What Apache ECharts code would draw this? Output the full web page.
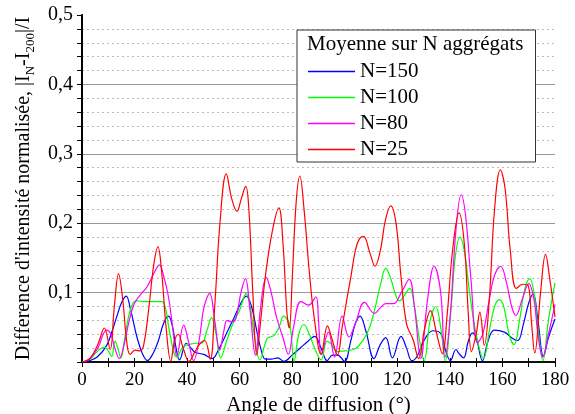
<!DOCTYPE html>
<html>
<head>
<meta charset="utf-8">
<script src="https://cdn.jsdelivr.net/npm/echarts@6/dist/echarts.min.js"></script>
<style>html,body{margin:0;padding:0;background:#fff}#c{width:575px;height:414px}</style>
</head>
<body>
<div id="c"></div>
<script>
var seriesNames = ['N=150', 'N=100', 'N=80', 'N=25'];
var legendTitle = 'Moyenne sur N aggrégats';
var xAxisName = 'Angle de diffusion (°)';

var n150 = [[0,0],[3,0.002],[6,0.008],[9.4,0.024],[11.5,0.045],[13.2,0.065],[15,0.085],[16.8,0.095],[18.5,0.075],[20.9,0.036],[23,0.012],[24.9,0.002],[27,0.012],[29,0.03],[31,0.055],[32.9,0.066],[34.5,0.05],[35.8,0.02],[37.1,0.003],[39.7,0.027],[41.5,0.02],[43.1,0.014],[46.3,0.011],[49.5,0.005],[52,0.018],[55.2,0.043],[58,0.065],[60.5,0.085],[62.5,0.095],[64.5,0.08],[66.5,0.045],[68,0.02],[69.8,0.004],[72,0.004],[74.5,0.006],[76.8,0.001],[80,0.01],[83.3,0.021],[86,0.03],[88.5,0.037],[91,0.02],[93.3,0.002],[95.3,0.01],[97.2,0.01],[99.9,0.001],[102.2,0.029],[104,0.055],[105.8,0.066],[108,0.045],[111.1,0.005],[113.5,0.025],[115.6,0.035],[118.1,0.006],[121.4,0.037],[123.5,0.02],[125.5,0.002],[127.5,0.008],[130,0.03],[133.5,0.045],[136.5,0.041],[138.5,0.015],[140.2,0.002],[142.3,0.018],[143.5,0.012],[145.2,0.006],[147,0.03],[148.6,0.042],[150,0.035],[152.4,0.002],[154.5,0.03],[156.9,0.046],[160.7,0.043],[163.9,0.034],[165.8,0.031],[168,0.055],[170,0.085],[171.7,0.098],[173.5,0.06],[175.6,0.008],[177.5,0.035],[180,0.062]];

var n100 = [[0,0],[3,0.004],[5,0.012],[7,0.019],[8.8,0.021],[10,0.016],[11.3,0.008],[12.6,0.030],[13.6,0.02],[14.8,0.006],[16.5,0.04],[18,0.07],[19.6,0.086],[21,0.088],[23.5,0.087],[26,0.087],[28.5,0.087],[30.4,0.087],[31.7,0.079],[33.5,0.04],[36.1,0.007],[38.5,0.022],[40.5,0.025],[43.5,0.027],[45.5,0.027],[47.5,0.045],[49.3,0.064],[51,0.04],[52.8,0.006],[55,0.03],[57.7,0.058],[60,0.075],[62.5,0.099],[64,0.08],[65.5,0.04],[67.7,0.003],[70.5,0.034],[73,0.038],[75,0.05],[76.7,0.066],[78.3,0.06],[79.3,0.05],[80.7,0.001],[82.5,0.04],[84.4,0.054],[86.5,0.04],[88.5,0.02],[91,0.003],[93.3,0.030],[95,0.025],[97.2,0.015],[100,0.016],[102.2,0.017],[105,0.022],[108.6,0.042],[111,0.07],[113.5,0.11],[115.6,0.135],[117.5,0.12],[119.5,0.095],[120.8,0.088],[122.5,0.095],[124.7,0.106],[126.5,0.08],[128.5,0.03],[130.2,0.002],[132.5,0.06],[134.6,0.08],[136.5,0.05],[138.2,0.002],[140.5,0.08],[142,0.15],[143.8,0.18],[145.5,0.16],[147.5,0.1],[150,0.04],[152.8,0.005],[155,0.045],[157,0.08],[158.8,0.090],[160.5,0.08],[162.5,0.04],[164.4,0.025],[166.5,0.06],[168.5,0.105],[170.4,0.120],[172,0.1],[173.5,0.05],[175.4,0.002],[177.5,0.06],[180,0.114]];

var n80 = [[0,0],[3,0.005],[6,0.02],[9.4,0.046],[11,0.04],[12.5,0.02],[14.2,0.005],[16,0.025],[18,0.06],[20,0.085],[22.5,0.098],[24.7,0.108],[27,0.125],[29.5,0.140],[31,0.125],[32.9,0.094],[34.5,0.05],[36.1,0.009],[38.7,0.053],[40.5,0.03],[42.5,0.002],[44.5,0.03],[46.5,0.08],[48.6,0.099],[50.5,0.06],[52.4,0.017],[54,0.045],[55.2,0.06],[57,0.058],[58.5,0.062],[60.5,0.1],[62.2,0.12],[63.8,0.08],[66,0.01],[68,0.08],[70.1,0.122],[72,0.1],[74,0.065],[76.5,0.035],[78.5,0.011],[80.5,0.05],[83.3,0.087],[86.3,0.082],[89,0.094],[90,0.06],[91.1,0.011],[93.8,0.043],[96.1,0.007],[99,0.066],[101.6,0.036],[104,0.055],[107.5,0.086],[111.3,0.070],[113.5,0.078],[115.6,0.084],[118.5,0.084],[121.5,0.1],[124.5,0.119],[126.5,0.08],[128.9,0.005],[131.5,0.09],[134,0.138],[136.5,0.10],[138.1,0.007],[140,0.06],[142.3,0.19],[144.3,0.241],[146,0.21],[148,0.12],[150.5,0.028],[152.5,0.04],[155,0.09],[157,0.125],[159.3,0.138],[161.5,0.115],[163.5,0.08],[165.1,0.067],[167.5,0.09],[170,0.113],[172,0.09],[173.5,0.04],[175.3,0.007],[177.5,0.04],[180,0.083]];

var n25 = [[0,0],[3,0.005],[6,0.025],[8.5,0.049],[10.7,0.018],[12.3,0.08],[13.9,0.127],[15.5,0.09],[17,0.03],[18.3,0.011],[20.2,0.017],[22.1,0.016],[23.5,0.025],[25.5,0.08],[27.3,0.14],[28.9,0.166],[30.3,0.13],[32,0.05],[33.8,0.001],[35.2,0.03],[36.6,0.040],[38.5,0.02],[40.7,0.001],[43,0.015],[45,0.027],[46.7,0.031],[48.8,0.004],[50.5,0.08],[52.5,0.2],[54.9,0.271],[57,0.235],[59,0.217],[60.6,0.235],[62.3,0.253],[63.5,0.22],[65,0.1],[66.5,0.01],[68,0.06],[70,0.13],[72.5,0.19],[74.9,0.222],[76.5,0.17],[78,0.07],[78.9,0.049],[80,0.12],[81.5,0.23],[82.9,0.268],[84.5,0.22],[86.5,0.13],[88.5,0.06],[91,0.011],[93.4,0.052],[95,0.035],[97.2,0.01],[99,0.05],[101,0.095],[102.2,0.12],[104,0.16],[105.5,0.177],[107.1,0.181],[109.5,0.158],[111.5,0.138],[113.5,0.16],[115.5,0.205],[117.5,0.225],[119.5,0.2],[121.3,0.127],[123.5,0.055],[126,0.032],[128.1,0.005],[130.5,0.05],[132.6,0.074],[135,0.04],[137.1,0.012],[139,0.07],[141,0.16],[143.5,0.215],[145.5,0.17],[147,0.07],[148.2,0.015],[150,0.04],[151.4,0.072],[153.1,0.024],[155,0.09],[157,0.22],[159.2,0.277],[161,0.25],[163,0.16],[165.3,0.106],[167.7,0.112],[169.8,0.11],[171,0.06],[172.3,0.013],[174.5,0.1],[176.4,0.155],[178,0.12],[180,0.065]];

var seriesData = [n150, n100, n80, n25];
var seriesColors = ['#0000ff', '#00ff00', '#ff00ff', '#ff0000'];

var FONT = 'Liberation Serif';
var chart = echarts.init(document.getElementById('c'), null, {renderer: 'canvas'});

var series = seriesNames.map(function (name, i) {
  return {
    name: name, type: 'line', data: seriesData[i], smooth: 0.4,
    symbol: 'none', xAxisIndex: 0, yAxisIndex: 0,
    lineStyle: {color: seriesColors[i], width: 1.2},
    itemStyle: {color: seriesColors[i]},
    z: 3 + i
  };
});

chart.setOption({
  animation: false,
  backgroundColor: '#fff',
  grid: {left: 82, right: 20, top: 15, bottom: 52, show: false, containLabel: false, outerBoundsMode: 'none'},
  title: {
    text: legendTitle, left: 307, top: 34,
    textStyle: {fontFamily: FONT, fontSize: 21, fontWeight: 'normal', color: '#000'},
    padding: 0, z: 20
  },
  legend: {
    data: seriesNames, orient: 'vertical', left: 297, top: 30,
    backgroundColor: '#fff', borderColor: '#333', borderWidth: 1,
    padding: [31, 117, 2, 11],
    icon: 'rect', itemWidth: 47, itemHeight: 1.5, itemGap: 5,
    textStyle: {fontFamily: FONT, fontSize: 21, color: '#000', lineHeight: 21},
    z: 10
  },
  xAxis: [{
    type: 'value', min: 0, max: 180, interval: 20,
    name: xAxisName, nameLocation: 'middle', nameGap: 31,
    nameTextStyle: {fontFamily: FONT, fontSize: 21, color: '#000'},
    axisLine: {lineStyle: {color: '#000', width: 1.5}},
    axisTick: {show: true, length: 5, lineStyle: {color: '#000'}},
    minorTick: {show: true, splitNumber: 2, length: 5, lineStyle: {color: '#000'}},
    axisLabel: {fontFamily: FONT, fontSize: 19, color: '#000', margin: 9},
    splitLine: {show: false}
  }, {
    type: 'value', min: 0, max: 180, interval: 20, position: 'top',
    axisLine: {lineStyle: {color: '#000', width: 1.5}},
    axisTick: {show: true, length: 4, lineStyle: {color: '#000'}},
    minorTick: {show: true, splitNumber: 2, length: 4, lineStyle: {color: '#000'}},
    axisLabel: {show: false}, splitLine: {show: false}
  }],
  yAxis: [{
    type: 'value', min: 0, max: 0.5, interval: 0.1,
    name: "Difference d'intensité normalisée, |I{sub|N}-I{sub|200}|/I",
    nameLocation: 'middle', nameGap: 36,
    nameTextStyle: {fontFamily: FONT, fontSize: 20, color: '#000', lineHeight: 26,
      rich: {sub: {fontFamily: FONT, fontSize: 13, color: '#000', lineHeight: 26, verticalAlign: 'bottom'}}},
    axisLine: {lineStyle: {color: '#000', width: 1.5}},
    axisTick: {show: true, length: 5, lineStyle: {color: '#000'}},
    minorTick: {show: true, splitNumber: 5, length: 5, lineStyle: {color: '#000'}},
    axisLabel: {fontFamily: FONT, fontSize: 20, color: '#000', margin: 9, showMinLabel: false,
      formatter: function (v) { return v.toFixed(1).replace('.', ','); }},
    splitLine: {show: true, showMinLine: false, showMaxLine: false, lineStyle: {color: '#999', width: 1}},
    minorSplitLine: {show: true, lineStyle: {color: '#bbb', width: 1, type: [2, 3]}}
  }, {
    type: 'value', min: 0, max: 0.5, interval: 0.1, position: 'right',
    axisLine: {show: true, lineStyle: {color: '#000', width: 2}},
    axisTick: {show: false}, axisLabel: {show: false}, splitLine: {show: false}
  }],
  series: series
});
</script>
</body>
</html>
